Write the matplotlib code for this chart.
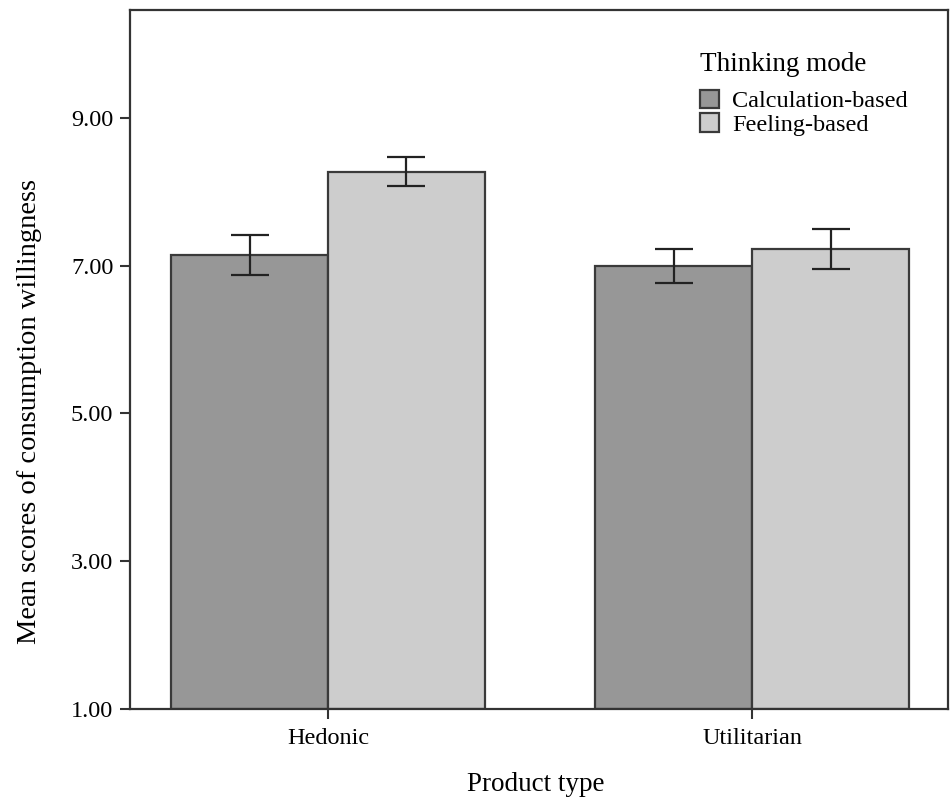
import matplotlib.pyplot as plt
import numpy as np

categories = ["Hedonic", "Utilitarian"]
modes = ["Calculation-based", "Feeling-based"]
calc_means = [7.15, 6.99]
calc_lo = [6.88, 6.76]
calc_hi = [7.41, 7.22]
feel_means = [8.27, 7.22]
feel_lo = [8.08, 6.95]
feel_hi = [8.47, 7.49]
yticks = [1.0, 3.0, 5.0, 7.0, 9.0]

plt.rcParams["font.family"] = ["Liberation Serif", "DejaVu Serif"]

fig = plt.figure(figsize=(9.51, 7.97), dpi=100)
ax = fig.add_axes([0.1367, 0.1104, 0.8601, 0.8771])

x = np.arange(len(categories))
width = 0.37
edge = "#3a3a3a"

series = [
    (calc_means, calc_lo, calc_hi, "#979797", -width / 2),
    (feel_means, feel_lo, feel_hi, "#cdcdcd", width / 2),
]
for (means, lo, hi, color, off), label in zip(series, modes):
    means = np.array(means)
    yerr = [means - np.array(lo), np.array(hi) - means]
    ax.bar(x + off, means - 1.0, bottom=1.0, width=width, color=color,
           edgecolor=edge, linewidth=1.6, label=label, zorder=2)
    ax.errorbar(x + off, means, yerr=yerr, fmt="none", ecolor="#222222",
                elinewidth=1.6, capsize=14, capthick=1.6, zorder=3)

ax.set_xlim(-0.467, 1.462)
ax.set_ylim(1.0, 10.46)
ax.set_yticks(yticks)
ax.set_yticklabels([f"{v:.2f}" for v in yticks])
ax.set_xticks(x)
ax.set_xticklabels(categories)
ax.tick_params(axis="both", labelsize=17.5, direction="out", length=7,
               width=1.5, color="#333333")
ax.tick_params(axis="x", pad=7)
ax.tick_params(axis="y", pad=5)

for s in ax.spines.values():
    s.set_color("#333333")
    s.set_linewidth(1.6)

ax.set_xlabel("Product type", fontsize=19.5)
ax.xaxis.set_label_coords(0.496, -0.09)
ax.set_ylabel("Mean scores of consumption willingness", fontsize=20.5)
ax.yaxis.set_label_coords(-0.107, 0.426)

leg = ax.legend(title="Thinking mode", loc="upper left",
                bbox_to_anchor=(0.682, 0.957), frameon=False, fontsize=17.5,
                title_fontsize=19.5, handlelength=0.78, handleheight=0.78,
                handletextpad=0.55, labelspacing=0.05, borderpad=0)
leg._legend_box.align = "left"
leg._legend_box.sep = 9

fig.savefig("out.png", dpi=100)
